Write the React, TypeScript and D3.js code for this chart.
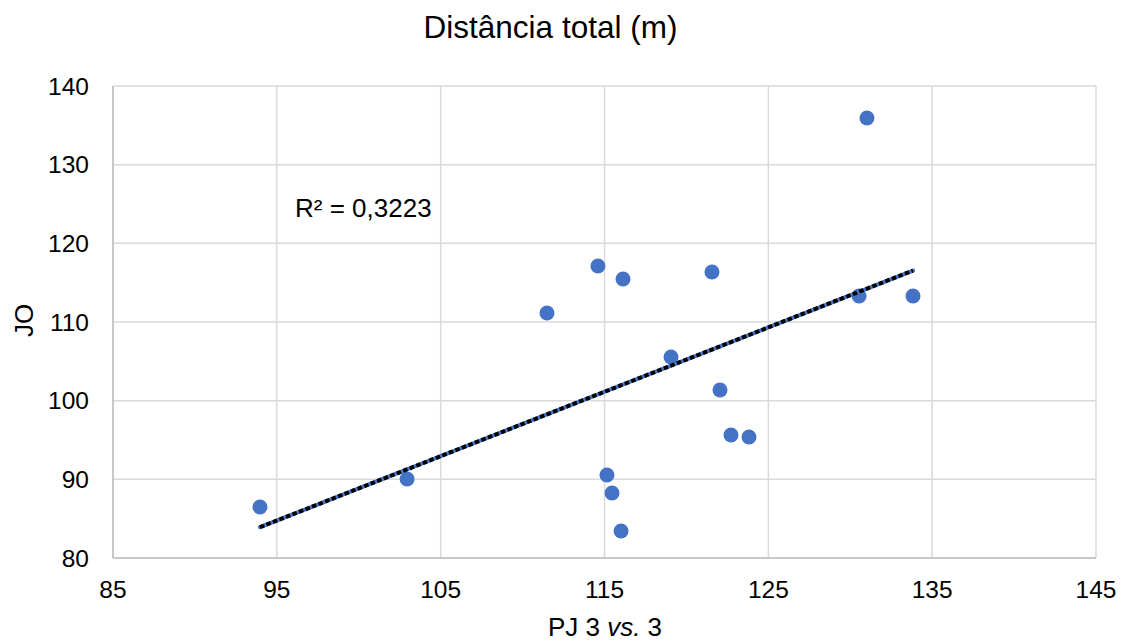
import React from "react";
import * as d3 from "d3";

const xValues = [93.97, 102.95, 111.49, 114.6, 116.13, 121.56, 119.06, 122.05, 122.72, 123.82, 115.15, 115.46, 116.01, 131.02, 130.54, 133.83];
const yValues = [86.48, 90.04, 111.14, 117.12, 115.47, 116.35, 105.55, 101.35, 95.64, 95.38, 90.55, 88.26, 83.43, 135.93, 113.3, 113.3];
const xTicks = [85, 95, 105, 115, 125, 135, 145];
const yTicks = [80, 90, 100, 110, 120, 130, 140];
const title = "Distância total (m)";
const yTitle = "JO";
const r2Label = "R² = 0,3223";

const W = 1127;
const H = 641;
const L = 113, R = 1096, T = 86, B = 558;

export default function App() {
  const x = d3.scaleLinear().domain([85, 145]).range([L, R]);
  const y = d3.scaleLinear().domain([80, 140]).range([B, T]);
  const n = xValues.length;
  const mx = d3.mean(xValues)!;
  const my = d3.mean(yValues)!;
  let sxy = 0, sxx = 0;
  for (let i = 0; i < n; i++) {
    sxy += (xValues[i] - mx) * (yValues[i] - my);
    sxx += (xValues[i] - mx) ** 2;
  }
  const slope = sxy / sxx;
  const icpt = my - slope * mx;
  const x0 = d3.min(xValues)!;
  const x1 = d3.max(xValues)!;
  const line = d3.line<number>().x((d) => x(d)).y((d) => y(icpt + slope * d));
  const trend = line([x0, x1]) || "";
  const font = "Liberation Sans, Arial, sans-serif";
  return (
    <svg width={W} height={H} style={{ position: "absolute", left: 0, top: 0, background: "#fff" }} fontFamily={font}>
      <rect x={0} y={0} width={W} height={H} fill="#fff" />
      {xTicks.map((t) => (
        <line key={"gx" + t} x1={x(t)} x2={x(t)} y1={T} y2={B} stroke="#d9d9d9" strokeWidth={1.5} />
      ))}
      {yTicks.map((t) => (
        <line key={"gy" + t} x1={L} x2={R} y1={y(t)} y2={y(t)} stroke="#d9d9d9" strokeWidth={1.5} />
      ))}
      <line x1={L} x2={L} y1={T} y2={B} stroke="#bfbfbf" strokeWidth={1.5} />
      <line x1={L} x2={R} y1={B} y2={B} stroke="#bfbfbf" strokeWidth={1.5} />
      {yTicks.map((t) => (
        <text key={"ty" + t} x={89} y={y(t)} dy="0.35em" textAnchor="end" fontSize={24.5} fill="#000">{t}</text>
      ))}
      {xTicks.map((t) => (
        <text key={"tx" + t} x={x(t)} y={598} textAnchor="middle" fontSize={24.5} fill="#000">{t}</text>
      ))}
      {xValues.map((v, i) => (
        <circle key={"p" + i} cx={x(v)} cy={y(yValues[i])} r={7.5} fill="#4472C4" />
      ))}
      <path d={trend} stroke="#4472C4" strokeWidth={4} fill="none" strokeLinecap="round" />
      <path d={trend} stroke="#000" strokeWidth={4} fill="none" strokeDasharray="4.5,2.5" />
      <text x={295} y={217} fontSize={26} fill="#000">{r2Label}</text>
      <text x={550.5} y={37.5} textAnchor="middle" fontSize={31.5} fill="#000">{title}</text>
      <text x={605} y={636} textAnchor="middle" fontSize={26} fill="#000">
        PJ 3 <tspan fontStyle="italic">vs.</tspan> 3
      </text>
      <text transform={`translate(32.5, 320.5) rotate(-90)`} textAnchor="middle" fontSize={26} fill="#000">{yTitle}</text>
    </svg>
  );
}
